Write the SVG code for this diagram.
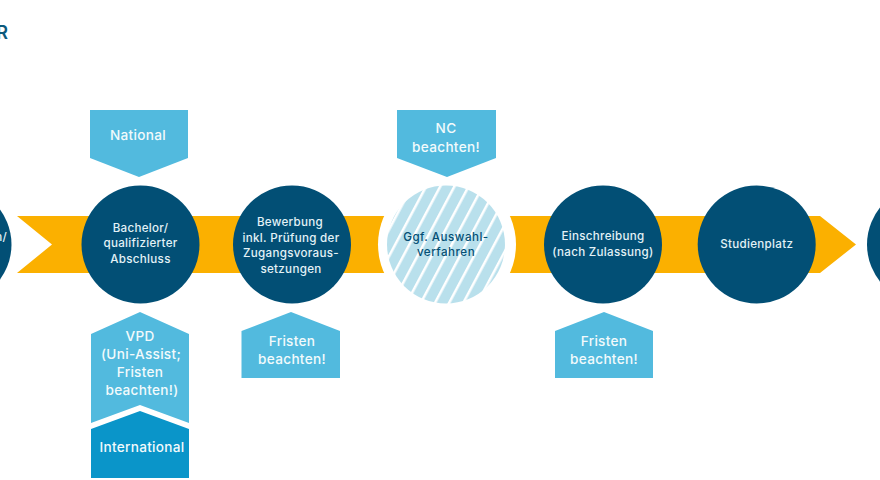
<svg xmlns="http://www.w3.org/2000/svg" width="880" height="480" viewBox="0 0 880 480">
<style>
text{font-family:"Inter","Liberation Sans",sans-serif;font-weight:500;text-anchor:middle}
.n{fill:#024f75}
.t{fill:#e3f2f7;font-size:11.6px;letter-spacing:.3px}
.l{fill:#52bade}
.d{fill:#0a95c9}
.w{fill:#f2fafc;font-size:13.6px;letter-spacing:.3px}
.g{fill:#044f74;font-size:11.6px;letter-spacing:.5px}
</style>
<defs>
<pattern id="h" width="12.500" height="20" patternUnits="userSpaceOnUse" patternTransform="rotate(28)">
<rect width="12.500" height="20" fill="#b9e0ec"/>
<rect width="2.500" height="20" fill="#fff"/>
</pattern>
</defs>
<rect width="880" height="480" fill="#fff"/>
<g id="connectors">
<polygon points="17,216 820,216 856,244.5 820,273 17,273 52,244.5" fill="#fbb000"/>
</g>
<g id="logo"><text x="8" y="39" style="font-size:18px;font-weight:600;text-anchor:end" fill="#0d5a7c">R</text></g>
<g id="start"><circle class="n" cx="-47.5" cy="244.5" r="59"/><text class="t" x="7" y="241" style="text-anchor:end">n/</text></g>
<g id="end"><circle class="n" cx="926" cy="244.5" r="59"/></g>
<g id="bachelor"><circle class="n" cx="140.5" cy="244.5" r="59"/>
<text class="t" x="140.5" y="232">Bachelor/</text><text class="t" x="140.5" y="247">qualifizierter</text><text class="t" x="140.5" y="263">Abschluss</text></g>
<g id="bewerbung"><circle class="n" cx="292" cy="244.5" r="59"/>
<text class="t" x="290" y="226">Bewerbung</text><text class="t" x="291" y="242">inkl. Prüfung der</text><text class="t" x="291" y="257">Zugangsvoraus-</text><text class="t" x="291" y="273">setzungen</text></g>
<g id="auswahl"><circle cx="447" cy="244.5" r="69" fill="#fff"/><circle cx="446" cy="244.5" r="59" fill="url(#h)"/>
<text class="g" x="446" y="241">Ggf. Auswahl-</text><text class="g" x="446" y="256">verfahren</text></g>
<g id="einschreibung"><circle class="n" cx="603" cy="244.5" r="59"/>
<text class="t" x="603" y="240">Einschreibung</text><text class="t" x="603" y="256">(nach Zulassung)</text></g>
<g id="studienplatz"><circle class="n" cx="756.7" cy="244.5" r="59"/>
<text class="t" x="756.7" y="248">Studienplatz</text></g>
<g id="national"><polygon class="l" points="90,110 188,110 188,158 139,177 90,158"/><text class="w" x="138" y="140">National</text></g>
<g id="nc"><polygon class="l" points="397,110 496,110 496,158 447,177 397,158"/><text class="w" x="446" y="133">NC</text><text class="w" x="446" y="152">beachten!</text></g>
<g id="vpd"><polygon class="l" points="91,334 140,312 189,334 189,423 140,405 91,423"/>
<text class="w" x="140" y="341">VPD</text><text class="w" x="141" y="359">(Uni-Assist;</text><text class="w" x="140" y="377">Fristen</text><text class="w" x="142" y="395">beachten!)</text></g>
<g id="international"><polygon class="d" points="91,429 140,411 189,429 189,478 91,478"/><text class="w" x="142" y="452">International</text></g>
<g id="fristen1"><polygon class="l" points="241.500,331 291,312 340,331 340,378 241.500,378"/><text class="w" x="292" y="346">Fristen</text><text class="w" x="292" y="364">beachten!</text></g>
<g id="fristen2"><polygon class="l" points="555,331 604,312 653,331 653,378 555,378"/><text class="w" x="604" y="346">Fristen</text><text class="w" x="604" y="364">beachten!</text></g>
</svg>
